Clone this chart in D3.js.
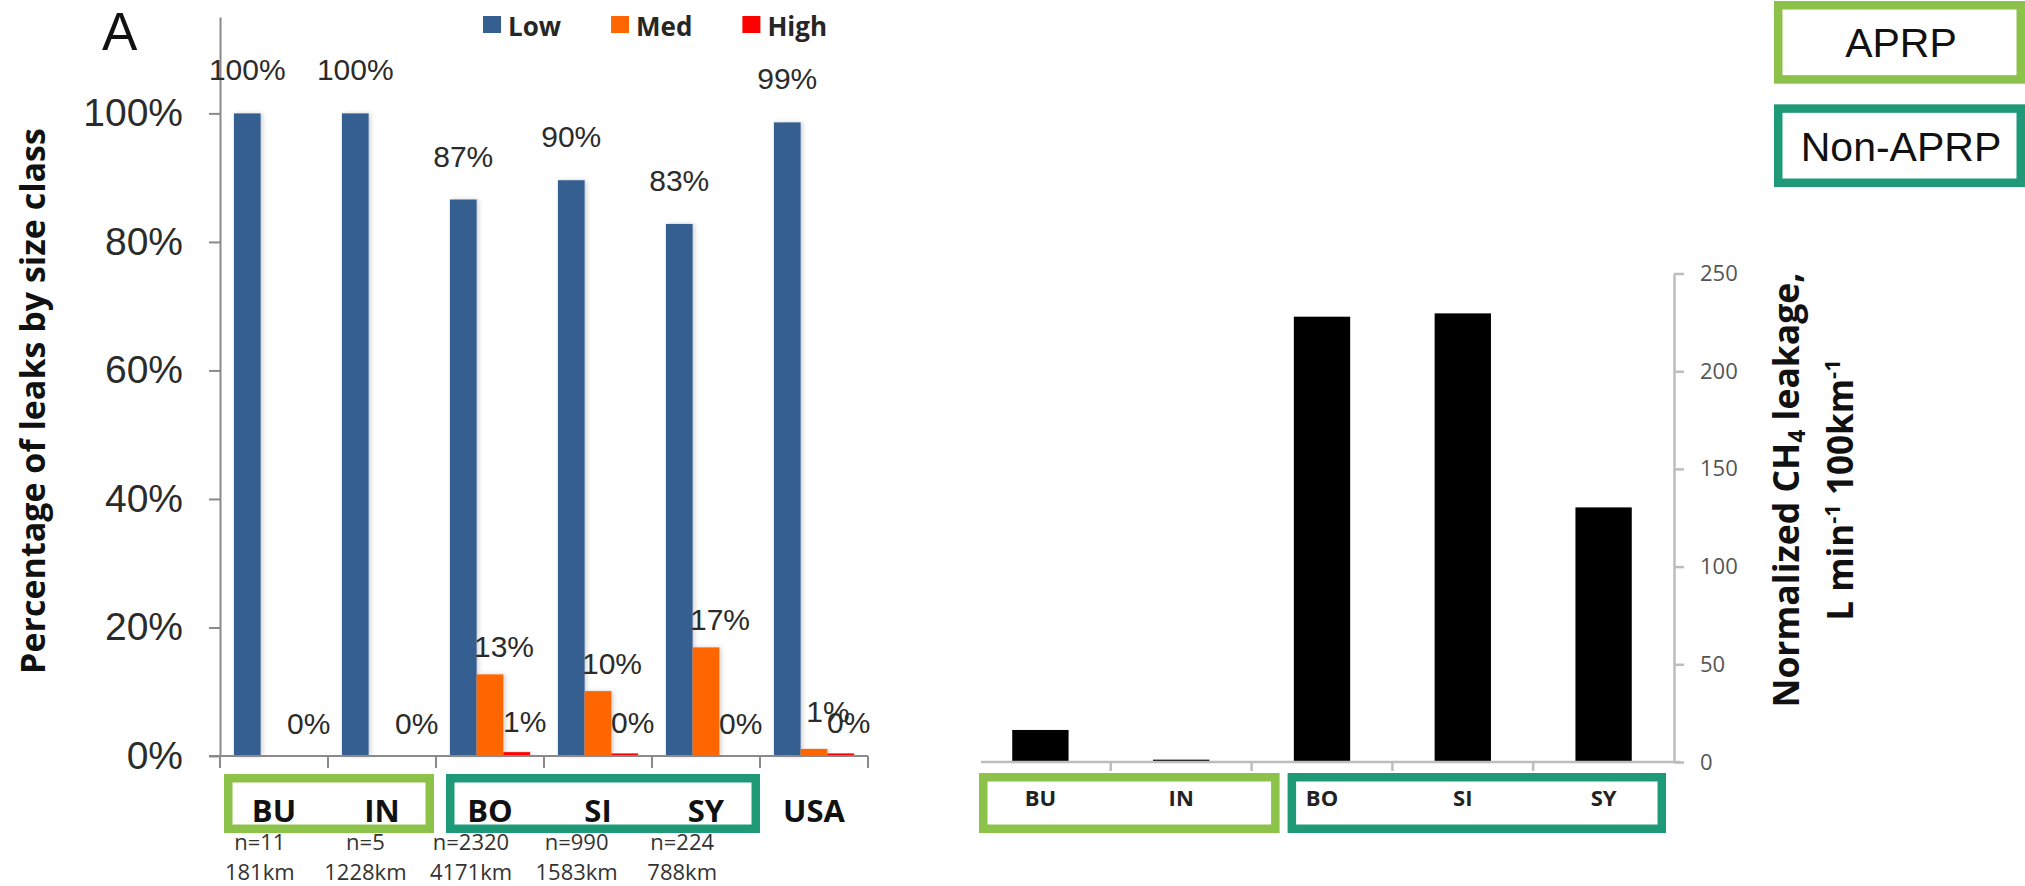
<!DOCTYPE html>
<html>
<head>
<meta charset="utf-8">
<script src="https://cdn.jsdelivr.net/npm/d3@7"></script>
<style>
  html, body { margin: 0; padding: 0; background: #fff; }
  svg { display: block; }
</style>
</head>
<body>
<svg id="fig" width="2025" height="886"></svg>
<script>
// ---- Panel A: share of leaks by size class, per city ----
const sites = ["BU", "IN", "BO", "SI", "SY", "USA"];
const sizeClasses = ["Low", "Med", "High"];
const lowShare  = [100, 100, 86.6, 89.6, 82.8, 98.6];
const medShare  = [0, 0, 12.7, 10.1, 16.9, 1.1];
const highShare = [0, 0, 0.6, 0.4, 0, 0.4];
const medLabelShown = [false, false, true, true, true, true];
const yTicksA = [0, 20, 40, 60, 80, 100];
const surveyCities = ["BU", "IN", "BO", "SI", "SY"];
const sampleCounts = ["n=11", "n=5", "n=2320", "n=990", "n=224"];
const surveyedKm = ["181km", "1228km", "4171km", "1583km", "788km"];

// ---- Panel B: normalized CH4 leakage ----
const citiesB = ["BU", "IN", "BO", "SI", "SY"];
const leakage = [16.4, 1.2, 227.9, 229.6, 130.3];
const yTicksB = [0, 50, 100, 150, 200, 250];

// ---- Program groups ----
const groupNames = ["APRP", "Non-APRP"];
const aprpCities = ["BU", "IN"];
const nonAprpCities = ["BO", "SI", "SY"];

const classColor = { Low: "#365F91", Med: "#FF6600", High: "#FF0000" };
const groupColor = { "APRP": "#8CC24A", "Non-APRP": "#1F9A78" };
const shareByClass = { Low: lowShare, Med: medShare, High: highShare };

const svg = d3.select("#fig");
const defs = svg.append("defs");
const shadow = defs.append("filter").attr("id", "barShadow")
  .attr("x", "-20%").attr("y", "-5%").attr("width", "160%").attr("height", "110%");
shadow.append("feDropShadow").attr("dx", 2).attr("dy", 0)
  .attr("stdDeviation", 2).attr("flood-color", "#000").attr("flood-opacity", 0.18);

const helv = "'Liberation Sans', Arial, Helvetica, sans-serif";
const sansBold = "'Open Sans', 'Liberation Sans', Arial, sans-serif";

// =================== Panel A ===================
const xA = d3.scaleBand().domain(sites).range([220, 868]).padding(0);
const subA = d3.scaleBand().domain(sizeClasses).range([0, xA.bandwidth()])
  .paddingInner(0).paddingOuter(0.52);
const yA = d3.scaleLinear().domain([0, 115]).range([756, 17]);

const gA = svg.append("g");

// bars
sizeClasses.forEach(cls => {
  gA.append("g").selectAll("rect")
    .data(sites.map((s, i) => ({ site: s, v: shareByClass[cls][i] })))
    .join("rect")
    .attr("x", d => xA(d.site) + subA(cls))
    .attr("width", subA.bandwidth())
    .attr("y", d => yA(d.v))
    .attr("height", d => yA(0) - yA(d.v))
    .attr("fill", classColor[cls])
    .attr("filter", d => d.v > 0 ? "url(#barShadow)" : null);
});

// y axis
const axA = gA.append("g").attr("transform", "translate(220,0)")
  .call(d3.axisLeft(yA).tickValues(yTicksA).tickSize(11).tickPadding(26)
    .tickSizeOuter(0).tickFormat(d => d + "%"));
axA.select(".domain").attr("stroke", "#8a8a8a").attr("stroke-width", 2);
axA.selectAll(".tick line").attr("stroke", "#8a8a8a").attr("stroke-width", 2);
axA.selectAll(".tick text").attr("font-family", helv).attr("font-size", 39)
  .attr("fill", "#2b2b2b");

// x baseline with ticks at group boundaries
gA.append("line").attr("x1", 209).attr("x2", xA.range()[1])
  .attr("y1", yA(0)).attr("y2", yA(0)).attr("stroke", "#8a8a8a").attr("stroke-width", 2);
const boundsA = sites.map(s => xA(s)).concat([xA.range()[1]]);
gA.append("g").selectAll("line").data(boundsA).join("line")
  .attr("x1", d => d).attr("x2", d => d)
  .attr("y1", yA(0)).attr("y2", yA(0) + 12)
  .attr("stroke", "#8a8a8a").attr("stroke-width", 2);

// value labels: above the bar, but never closer to the baseline than `floor`
const pct = v => Math.round(v) + "%";
function valueLabels(cls, values, shown, dx, lift, floor) {
  gA.append("g").selectAll("text")
    .data(sites.map((s, i) => ({ site: s, v: values[i], show: shown[i] })).filter(d => d.show))
    .join("text")
    .attr("x", d => xA(d.site) + subA(cls) + subA.bandwidth() / 2 + dx)
    .attr("y", d => Math.min(yA(d.v) - lift, yA(0) - floor))
    .attr("text-anchor", "middle")
    .attr("font-family", helv)
    .attr("font-size", 30)
    .attr("fill", "#2b2b2b")
    .text(d => pct(d.v));
}
valueLabels("Low", lowShare, sites.map(() => true), 0, 33, 0);
valueLabels("Med", medShare, medLabelShown, 14, 17, 34);
valueLabels("High", highShare, sites.map(() => true), 8, 20, 22);

// panel letter
svg.append("text").attr("x", 102).attr("y", 50)
  .attr("font-family", helv).attr("font-size", 53).attr("fill", "#111").text("A");

// legend
const legend = svg.append("g");
let lx = 483;
sizeClasses.forEach(cls => {
  legend.append("rect").attr("x", lx).attr("y", 16).attr("width", 18).attr("height", 17)
    .attr("fill", classColor[cls]);
  const t = legend.append("text").attr("x", lx + 25).attr("y", 36)
    .attr("font-family", sansBold).attr("font-weight", 700).attr("font-size", 26)
    .attr("fill", "#262626").text(cls);
  lx += 25 + t.node().getComputedTextLength() + 50;
});

// y axis title
svg.append("text")
  .attr("transform", "translate(45,401) rotate(-90)")
  .attr("text-anchor", "middle")
  .attr("font-family", sansBold).attr("font-weight", 700).attr("font-size", 34)
  .attr("fill", "#111")
  .text("Percentage of leaks by size class");

// category labels
gA.append("g").selectAll("text").data(sites).join("text")
  .attr("x", d => xA(d) + xA.bandwidth() / 2)
  .attr("y", 822)
  .attr("text-anchor", "middle")
  .attr("font-family", sansBold).attr("font-weight", 700).attr("font-size", 31)
  .attr("fill", "#111").text(d => d);

// sample sizes and surveyed road length
const nx = d3.scaleBand().domain(surveyCities).range([207, 735]);
const info = gA.append("g").attr("font-family", sansBold).attr("font-size", 22)
  .attr("fill", "#333").attr("text-anchor", "middle");
info.selectAll("text.n").data(surveyCities).join("text").attr("class", "n")
  .attr("x", d => nx(d) + nx.bandwidth() / 2).attr("y", 850)
  .text((d, i) => sampleCounts[i]);
info.selectAll("text.km").data(surveyCities).join("text").attr("class", "km")
  .attr("x", d => nx(d) + nx.bandwidth() / 2).attr("y", 880)
  .text((d, i) => surveyedKm[i]);

// group frames in panel A
const frameStroke = 8.5;
function frame(x0, x1, y0, y1, color) {
  svg.append("rect")
    .attr("x", x0 + frameStroke / 2).attr("y", y0 + frameStroke / 2)
    .attr("width", x1 - x0 - frameStroke).attr("height", y1 - y0 - frameStroke)
    .attr("fill", "none").attr("stroke", color).attr("stroke-width", frameStroke);
}
const lastA = c => xA(c) + xA.bandwidth();
frame(xA(aprpCities[0]) + 4, lastA(aprpCities[aprpCities.length - 1]) - 2, 774, 833, groupColor["APRP"]);
frame(xA(nonAprpCities[0]) + 10, lastA(nonAprpCities[nonAprpCities.length - 1]), 774, 833, groupColor["Non-APRP"]);

// =================== Panel B ===================
const xB = d3.scaleBand().domain(citiesB).range([970, 1674]).paddingInner(0.6).paddingOuter(0.3);
const yB = d3.scaleLinear().domain([0, 250]).range([762, 273.5]);
const gB = svg.append("g");

gB.append("g").selectAll("rect")
  .data(citiesB.map((c, i) => ({ c, v: leakage[i] })))
  .join("rect")
  .attr("x", d => xB(d.c)).attr("width", xB.bandwidth())
  .attr("y", d => yB(d.v)).attr("height", d => yB(0) - yB(d.v))
  .attr("fill", "#000");

// right-hand y axis
const axB = gB.append("g").attr("transform", "translate(1674,0)")
  .call(d3.axisRight(yB).tickValues(yTicksB).tickSize(10).tickPadding(16).tickSizeOuter(0));
axB.select(".domain").attr("stroke", "#bdbdbd").attr("stroke-width", 2.5);
axB.selectAll(".tick line").attr("stroke", "#bdbdbd").attr("stroke-width", 2.5);
axB.selectAll(".tick text").attr("font-family", sansBold).attr("font-size", 22).attr("fill", "#555");

// x baseline with ticks between cities
const stepB = xB.step();
gB.append("line").attr("x1", xB.range()[0] + 11).attr("x2", xB.range()[1] + 6)
  .attr("y1", yB(0)).attr("y2", yB(0)).attr("stroke", "#bdbdbd").attr("stroke-width", 2.5);
gB.append("g").selectAll("line")
  .data(citiesB.slice(1).map(c => xB(c) - stepB * xB.paddingInner() / 2))
  .join("line")
  .attr("x1", d => d).attr("x2", d => d).attr("y1", yB(0)).attr("y2", yB(0) + 9)
  .attr("stroke", "#bdbdbd").attr("stroke-width", 2.5);

// city labels
gB.append("g").selectAll("text").data(citiesB).join("text")
  .attr("x", d => xB(d) + xB.bandwidth() / 2).attr("y", 806)
  .attr("text-anchor", "middle")
  .attr("font-family", sansBold).attr("font-weight", 700).attr("font-size", 22)
  .attr("fill", "#222").text(d => d);

// group frames in panel B
const splitB = xB(nonAprpCities[0]) - stepB * xB.paddingInner() / 2 + 32;
frame(xB.range()[0] + 9, splitB - 4, 773, 833, groupColor["APRP"]);
frame(splitB + 4, xB.range()[1] - 8, 773, 833, groupColor["Non-APRP"]);

// axis title (two lines, rotated)
const t1 = svg.append("text")
  .attr("transform", "translate(1799,490) rotate(-90)")
  .attr("text-anchor", "middle")
  .attr("font-family", sansBold).attr("font-weight", 700).attr("font-size", 35.5).attr("fill", "#111");
t1.append("tspan").text("Normalized CH");
t1.append("tspan").attr("font-size", 23).attr("dy", 6).text("4");
t1.append("tspan").attr("dy", -6).text(" leakage,");

const t2 = svg.append("text")
  .attr("transform", "translate(1853,490) rotate(-90)")
  .attr("text-anchor", "middle")
  .attr("font-family", sansBold).attr("font-weight", 700).attr("font-size", 35).attr("fill", "#111");
t2.append("tspan").text("L min");
t2.append("tspan").attr("font-size", 22).attr("dy", -13).text("-1");
t2.append("tspan").attr("dy", 13).text(" 100km");
t2.append("tspan").attr("font-size", 22).attr("dy", -13).text("-1");

// group key
const keyY = d3.scaleBand().domain(groupNames).range([1, 187]).paddingInner(0.2);
groupNames.forEach(name => {
  const y0 = keyY(name);
  frame(1774, 2025, y0, y0 + keyY.bandwidth(), groupColor[name]);
  svg.append("text")
    .attr("x", 1901).attr("y", y0 + keyY.bandwidth() / 2 + 15)
    .attr("text-anchor", "middle")
    .attr("font-family", helv).attr("font-size", 41).attr("fill", "#111")
    .text(name);
});
</script>
</body>
</html>
